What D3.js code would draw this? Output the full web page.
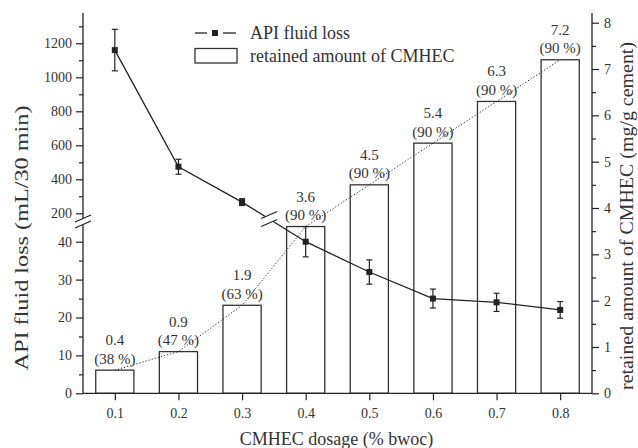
<!DOCTYPE html>
<html>
<head>
<meta charset="utf-8">
<script src="https://cdn.jsdelivr.net/npm/d3@7"></script>
<style>
  body { margin: 0; background: #fff; }
  svg { display: block; }
</style>
</head>
<body>
<div class="vis"></div>
<script>
// dosage categories (% bwoc)
const dosage = [0.1, 0.2, 0.3, 0.4, 0.5, 0.6, 0.7, 0.8]
// API fluid loss, mL/30 min, with error bar half widths
const fluidLoss = [1160, 474, 266, 40, 32, 25, 24, 22]
const fluidLossErr = [122, 44, 20, 4, 3.2, 2.5, 2.4, 2.2]
// retained amount of CMHEC, mg/g cement (bar heights as drawn)
const retained = [0.5, 0.9, 1.9, 3.6, 4.5, 5.4, 6.3, 7.2]
const retainedLabels = ['0.4', '0.9', '1.9', '3.6', '4.5', '5.4', '6.3', '7.2']
const retentionPct = ['38 %', '47 %', '63 %', '90 %', '90 %', '90 %', '90 %', '90 %']
// tick values
const topTicks = [200, 400, 600, 800, 1000, 1200]
const topMinor = [300, 500, 700, 900, 1100, 1300]
const botTicks = [0, 10, 20, 30, 40]
const botMinor = [5, 15, 25, 35]
const rightTicks = [0, 1, 2, 3, 4, 5, 6, 7, 8]
const rightMinor = [0.5, 1.5, 2.5, 3.5, 4.5, 5.5, 6.5, 7.5]

const W = 638
const H = 448
const plotLeft = 83
const plotRight = 592
const plotTop = 13
const plotBottom = 393.3
const breakY = 221.5
const ink = '#222'
const serif = '"Liberation Serif", "DejaVu Serif", serif'

const svg = d3
  .select('.vis')
  .append('svg')
  .attr('width', W)
  .attr('height', H)

// scales
const x = d3.scaleLinear().domain([0.05, 0.85]).range([plotLeft, plotRight])
const yTop = d3.scaleLinear().domain([200, 1200]).range([213.3, 43.3])
const yBot = d3.scaleLinear().domain([0, 40]).range([plotBottom, 241.7])
const yRight = d3.scaleLinear().domain([0, 8]).range([plotBottom, 22.7])
const yLeft = v => (v > 100 ? yTop(v) : yBot(v))

const barW = x(0.06) - x(0)

// bars
svg
  .append('g')
  .selectAll('rect')
  .data(dosage)
  .enter()
  .append('rect')
  .attr('x', d => x(d) - barW / 2)
  .attr('y', (d, i) => yRight(retained[i]))
  .attr('width', barW)
  .attr('height', (d, i) => plotBottom - yRight(retained[i]))
  .attr('fill', 'none')
  .attr('stroke', '#333')
  .attr('stroke-width', 1.3)

// dotted line through bar tops
svg
  .append('path')
  .datum(dosage)
  .attr('fill', 'none')
  .attr('stroke', ink)
  .attr('stroke-width', 1)
  .attr('stroke-dasharray', '1.2,2')
  .attr('d', d3.line().x(d => x(d)).y((d, i) => yRight(retained[i])))

// bar annotations
const ann = svg
  .append('g')
  .attr('font-family', serif)
  .attr('font-size', 15)
  .attr('fill', '#333')
  .attr('text-anchor', 'middle')

ann
  .selectAll('.val')
  .data(dosage)
  .enter()
  .append('text')
  .attr('x', d => x(d))
  .attr('y', (d, i) => yRight(retained[i]) - 25)
  .text((d, i) => retainedLabels[i])

ann
  .selectAll('.pct')
  .data(dosage)
  .enter()
  .append('text')
  .attr('x', d => x(d))
  .attr('y', (d, i) => yRight(retained[i]) - 6.5)
  .text((d, i) => `(${retentionPct[i]})`)

// fluid loss line
svg
  .append('path')
  .datum(dosage)
  .attr('fill', 'none')
  .attr('stroke', ink)
  .attr('stroke-width', 1.3)
  .attr('d', d3.line().x(d => x(d)).y((d, i) => yLeft(fluidLoss[i])))

// break on the line between 0.3 and 0.4
const p0 = [x(dosage[2]), yLeft(fluidLoss[2])]
const p1 = [x(dosage[3]), yLeft(fluidLoss[3])]
const by = breakY - 2.5
const t = (by - p0[1]) / (p1[1] - p0[1])
const bx = p0[0] + t * (p1[0] - p0[0])
drawBreak(bx, by, 4)

// error bars and markers
const eb = svg.append('g').attr('stroke', ink).attr('stroke-width', 1.2)
dosage.forEach((d, i) => {
  const cx = x(d)
  const hi = yLeft(fluidLoss[i] + fluidLossErr[i])
  const lo = yLeft(fluidLoss[i] - fluidLossErr[i])
  eb.append('line').attr('x1', cx).attr('x2', cx).attr('y1', hi).attr('y2', lo)
  eb.append('line').attr('x1', cx - 3).attr('x2', cx + 3).attr('y1', hi).attr('y2', hi)
  eb.append('line').attr('x1', cx - 3).attr('x2', cx + 3).attr('y1', lo).attr('y2', lo)
})

svg
  .append('g')
  .selectAll('rect')
  .data(dosage)
  .enter()
  .append('rect')
  .attr('x', d => x(d) - 3)
  .attr('y', (d, i) => yLeft(fluidLoss[i]) - 3)
  .attr('width', 6)
  .attr('height', 6)
  .attr('fill', ink)

// axes
function styleAxis(g) {
  g.attr('font-family', serif).attr('font-size', 14)
  g.select('.domain').remove()
  g.selectAll('.tick line').attr('stroke', ink).attr('stroke-width', 1.2)
  g.selectAll('.tick text').attr('fill', '#333')
}

function minor(g) {
  g.select('.domain').remove()
  g.selectAll('text').remove()
  g.selectAll('.tick line').attr('stroke', ink).attr('stroke-width', 1.2)
}

const intFmt = d3.format('d')

svg
  .append('g')
  .attr('transform', `translate(${plotLeft},0)`)
  .call(d3.axisLeft(yTop).tickValues(topTicks).tickFormat(intFmt).tickSize(7).tickPadding(4))
  .call(styleAxis)

svg
  .append('g')
  .attr('transform', `translate(${plotLeft},0)`)
  .call(d3.axisLeft(yTop).tickValues(topMinor).tickSize(4))
  .call(minor)

svg
  .append('g')
  .attr('transform', `translate(${plotLeft},0)`)
  .call(d3.axisLeft(yBot).tickValues(botTicks).tickFormat(intFmt).tickSize(7).tickPadding(4))
  .call(styleAxis)

svg
  .append('g')
  .attr('transform', `translate(${plotLeft},0)`)
  .call(d3.axisLeft(yBot).tickValues(botMinor).tickSize(4))
  .call(minor)

svg
  .append('g')
  .attr('transform', `translate(${plotRight},0)`)
  .call(d3.axisRight(yRight).tickValues(rightTicks).tickFormat(intFmt).tickSize(7).tickPadding(5))
  .call(styleAxis)

svg
  .append('g')
  .attr('transform', `translate(${plotRight},0)`)
  .call(d3.axisRight(yRight).tickValues(rightMinor).tickSize(4))
  .call(minor)

svg
  .append('g')
  .attr('transform', `translate(0,${plotBottom})`)
  .call(d3.axisBottom(x).tickValues(dosage).tickFormat(d3.format('.1f')).tickSize(7).tickPadding(7.5))
  .call(styleAxis)

// axis lines
const axes = svg.append('g').attr('stroke', ink).attr('stroke-width', 1.3)
axes.append('line').attr('x1', plotLeft).attr('x2', plotLeft).attr('y1', plotTop).attr('y2', breakY - 3)
axes.append('line').attr('x1', plotLeft).attr('x2', plotLeft).attr('y1', breakY + 3).attr('y2', plotBottom)
axes.append('line').attr('x1', plotRight).attr('x2', plotRight).attr('y1', plotTop).attr('y2', plotBottom)
axes.append('line').attr('x1', plotLeft).attr('x2', plotRight).attr('y1', plotBottom).attr('y2', plotBottom)
drawBreak(plotLeft, breakY, 3)

function drawBreak(cx, cy, gap) {
  svg
    .append('rect')
    .attr('x', cx - 4)
    .attr('y', cy - gap)
    .attr('width', 8)
    .attr('height', gap * 2)
    .attr('fill', '#fff')
  ;[-gap, gap].forEach(o => {
    svg
      .append('line')
      .attr('x1', cx - 8)
      .attr('x2', cx + 8)
      .attr('y1', cy + o + 3.5)
      .attr('y2', cy + o - 3.5)
      .attr('stroke', ink)
      .attr('stroke-width', 1.2)
  })
}

// axis titles
const titles = svg
  .append('g')
  .attr('font-family', serif)
  .attr('font-size', 18)
  .attr('fill', '#333')
  .attr('text-anchor', 'middle')

titles
  .append('text')
  .attr('x', (plotLeft + plotRight) / 2 - 1)
  .attr('y', 445)
  .text('CMHEC dosage (% bwoc)')

titles
  .append('text')
  .attr('transform', 'translate(28,238) rotate(-90)')
  .attr('textLength', 265)
  .attr('lengthAdjust', 'spacingAndGlyphs')
  .text('API fluid loss (mL/30 min)')

titles
  .append('text')
  .attr('transform', 'translate(633,216) rotate(-90)')
  .attr('textLength', 348)
  .attr('lengthAdjust', 'spacingAndGlyphs')
  .text('retained amount of CMHEC (mg/g cement)')

// legend
const lg = svg.append('g')
lg.append('line').attr('x1', 195).attr('x2', 207).attr('y1', 33).attr('y2', 33)
  .attr('stroke', ink).attr('stroke-width', 1.3)
lg.append('line').attr('x1', 223).attr('x2', 236).attr('y1', 33).attr('y2', 33)
  .attr('stroke', ink).attr('stroke-width', 1.3)
lg.append('rect').attr('x', 212).attr('y', 30).attr('width', 6).attr('height', 6).attr('fill', ink)
lg.append('rect').attr('x', 195).attr('y', 48.5).attr('width', 42).attr('height', 14.5)
  .attr('fill', 'none').attr('stroke', '#333').attr('stroke-width', 1.3)
lg.append('text').attr('x', 250).attr('y', 39).text('API fluid loss')
  .attr('font-family', serif).attr('font-size', 18).attr('fill', '#333')
lg.append('text').attr('x', 250).attr('y', 62).text('retained amount of CMHEC')
  .attr('font-family', serif).attr('font-size', 18).attr('fill', '#333')
</script>
</body>
</html>
